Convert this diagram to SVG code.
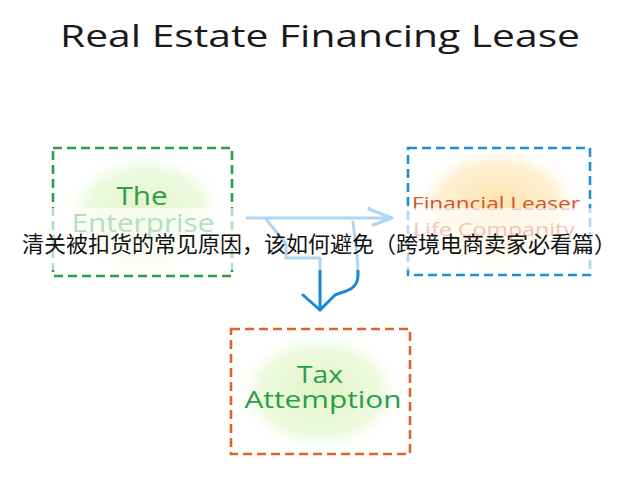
<svg xmlns="http://www.w3.org/2000/svg" width="640" height="480" viewBox="0 0 640 480">
  <defs>
    <radialGradient id="gGreen" cx="0.5" cy="0.5" r="0.5">
      <stop offset="0" stop-color="#e4f5c8"/>
      <stop offset="0.7" stop-color="#eef9e0"/>
      <stop offset="1" stop-color="#ffffff" stop-opacity="0"/>
    </radialGradient>
    <radialGradient id="gOrange" cx="0.5" cy="0.5" r="0.5">
      <stop offset="0" stop-color="#fde3ae"/>
      <stop offset="0.7" stop-color="#fef0d4"/>
      <stop offset="1" stop-color="#ffffff" stop-opacity="0"/>
    </radialGradient>
    <style>
      .box { fill: none; stroke-width: 2.6; stroke-dasharray: 9 5; }
      .lbl { font-family: "Open Sans", "DejaVu Sans", sans-serif; text-anchor: middle; }
      .green { fill: #27a048; }
      .conn { fill: none; stroke: #1b87d6; stroke-width: 3; stroke-linecap: round; stroke-linejoin: round; }
    </style>
  </defs>
  <rect width="640" height="480" fill="#ffffff"/>

  <text x="320" y="47" font-family="'Open Sans', 'DejaVu Sans', sans-serif" font-size="31" fill="#1a1a1a" text-anchor="middle" textLength="520" lengthAdjust="spacingAndGlyphs">Real Estate Financing Lease</text>

  <g id="node-enterprise">
    <ellipse cx="145" cy="214" rx="84" ry="64" fill="url(#gGreen)"/>
    <rect class="box" x="53" y="148" width="179" height="128" stroke="#2a9e4b"/>
    <text class="lbl green" x="142" y="205" font-size="25" textLength="51" lengthAdjust="spacingAndGlyphs">The</text>
    <text class="lbl green" x="143" y="232" font-size="25" textLength="143" lengthAdjust="spacingAndGlyphs">Enterprise</text>
  </g>

  <g id="node-leaser">
    <ellipse cx="498" cy="208" rx="86" ry="64" fill="url(#gOrange)"/>
    <rect class="box" x="408" y="148" width="182" height="127" stroke="#1f8ed6"/>
    <text class="lbl" x="496" y="210" font-size="19" fill="#d4532a" textLength="168" lengthAdjust="spacingAndGlyphs">Financial Leaser</text>
    <text class="lbl" x="494" y="236" font-size="19" fill="#d4532a" textLength="162" lengthAdjust="spacingAndGlyphs">Life Companity</text>
  </g>

  <g id="node-tax">
    <ellipse cx="320" cy="392" rx="86" ry="62" fill="url(#gGreen)"/>
    <rect class="box" x="231" y="329" width="179" height="125" stroke="#e0632c"/>
    <text class="lbl green" x="320" y="383" font-size="24" textLength="46" lengthAdjust="spacingAndGlyphs">Tax</text>
    <text class="lbl green" x="323" y="408" font-size="24" textLength="157" lengthAdjust="spacingAndGlyphs">Attemption</text>
  </g>

  <g id="connectors">
    <path class="conn" d="M247,218 H392 M369,209 L392,218 L373,225"/>
    <path class="conn" d="M266,219 L286,244 L286,258 L320,258 L320,310"/>
    <path class="conn" d="M353,222 C355,240 358,255 358,275 C358,290 345,291 335,295 L320,310 M303,295 L320,310"/>
  </g>

  <rect x="0" y="208" width="640" height="62" fill="#ffffff" fill-opacity="0.65"/>
  <text x="319" y="252" font-family="'Noto Sans CJK SC', 'Noto Sans', sans-serif" font-size="22" fill="#111111" text-anchor="middle">清关被扣货的常见原因，该如何避免（跨境电商卖家必看篇）</text>
</svg>
